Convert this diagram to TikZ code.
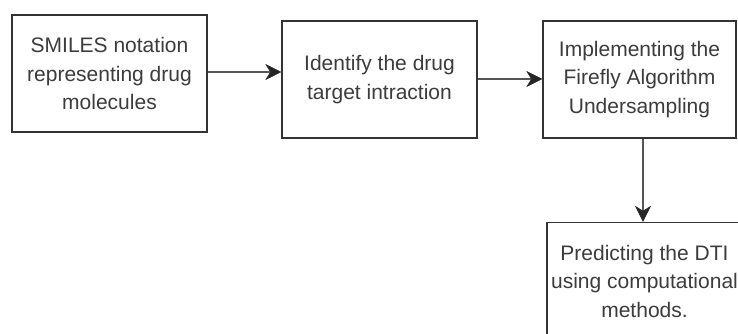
\documentclass[tikz,border=0pt]{standalone}
\usepackage{fontspec}
\setmainfont{Liberation Sans}
\usetikzlibrary{arrows.meta}
\definecolor{boxline}{HTML}{333333}
\definecolor{txt}{HTML}{3C3C3C}
\definecolor{arr}{HTML}{555555}
\begin{document}
\begin{tikzpicture}[x=1pt,y=-1pt,
  stepbox/.style={draw=boxline,line width=1.4pt,fill=white,text=txt,
    minimum width=195pt,minimum height=117pt,inner sep=0pt,align=center,
    font=\fontsize{21}{28.5}\selectfont},
  conn/.style={draw=arr,line width=2pt,
    -{Stealth[length=16pt,width=16pt,inset=5pt,line width=0.5pt,color=black!85,fill=black!85]}}]
\useasboundingbox (0,0) rectangle (738,334);
\node[stepbox] (a) at (109.5,73.5) {SMILES notation\\representing drug\\molecules};
\node[stepbox] (b) at (379.5,79.5) {Identify the drug\\target intraction};
\node[stepbox,minimum width=193pt] (c) at (639.5,79.5) {Implementing the\\Firefly Algorithm\\Undersampling};
\node[stepbox] (d) at (644.5,281) {Predicting the DTI\\using computational\\methods.};
\draw[conn] (a.east |- 0,72) -- (b.west |- 0,72);
\draw[conn] (b.east |- 0,79) -- (c.west |- 0,79);
\draw[conn] (c.south -| 643,0) -- (d.north -| 643,0);
\end{tikzpicture}
\end{document}
